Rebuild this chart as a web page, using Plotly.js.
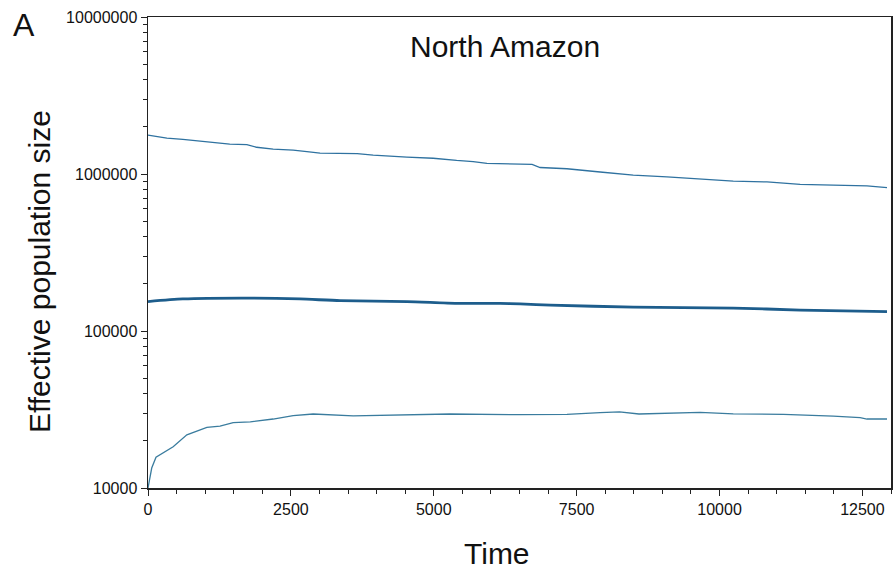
<!DOCTYPE html>
<html><head><meta charset="utf-8">
<script src="https://cdn.plot.ly/plotly-3.0.1.min.js"></script>
<style>body{margin:0;background:#fff}#chart{width:896px;height:579px}</style>
</head><body><div id="chart"></div>
<script>
// Upper 95% HPD
const upperTime = [0,330,610,1030,1310,1430,1730,1900,2190,2540,2780,3010,3660,3940,4530,4990,5400,5690,5930,6300,6720,6860,7330,7910,8490,9080,9660,10240,10830,11410,11990,12580,12930];
const upperNe   = [1.77e6,1.69e6,1.66e6,1.61e6,1.58e6,1.55e6,1.54e6,1.48e6,1.44e6,1.42e6,1.39e6,1.36e6,1.35e6,1.32e6,1.28e6,1.26e6,1.22e6,1.2e6,1.17e6,1.16e6,1.15e6,1.10e6,1.08e6,1.03e6,0.985e6,0.96e6,0.925e6,0.90e6,0.89e6,0.86e6,0.85e6,0.84e6,0.82e6];
// Median
const medianTime = [0,610,1790,2660,3360,4530,5400,6160,6510,7040,8490,10240,11410,12930];
const medianNe   = [1.54e5,1.60e5,1.62e5,1.60e5,1.56e5,1.54e5,1.50e5,1.50e5,1.49e5,1.46e5,1.42e5,1.40e5,1.36e5,1.33e5];
// Lower 95% HPD
const lowerTime = [0,65,140,440,680,1030,1260,1490,1790,2190,2540,2890,3590,4530,5280,6510,7330,7910,8250,8590,9160,9660,10240,11120,11990,12460,12580,12930];
const lowerNe   = [1.0e4,1.34e4,1.57e4,1.83e4,2.18e4,2.43e4,2.48e4,2.61e4,2.64e4,2.75e4,2.89e4,2.96e4,2.88e4,2.92e4,2.96e4,2.93e4,2.94e4,3.02e4,3.05e4,2.96e4,3.0e4,3.03e4,2.97e4,2.94e4,2.87e4,2.81e4,2.75e4,2.75e4];

const yMajor = [1e4,1e5,1e6,1e7];
const yMajorText = ["10000","100000","1000000","10000000"];
const xTicks = [0,2500,5000,7500,10000,12500];

const yMinor = [];
for (let d = 1e4; d < 1e7; d *= 10) for (let k = 2; k <= 9; k++) yMinor.push(k*d);

const font = "Liberation Sans, Arial, sans-serif";
const traces = [
  {x: upperTime, y: upperNe, mode: 'lines', line: {color: '#2f72a0', width: 1.3}, hoverinfo: 'skip'},
  {x: medianTime, y: medianNe, mode: 'lines', line: {color: '#1d5d8c', width: 2.8, shape: 'spline', smoothing: 0.6}, hoverinfo: 'skip'},
  {x: lowerTime, y: lowerNe, mode: 'lines', line: {color: '#3a7c9e', width: 1.3}, hoverinfo: 'skip'}
];
const layout = {
  width: 896, height: 579,
  margin: {l: 148, r: 5, t: 17, b: 91},
  paper_bgcolor: '#fff', plot_bgcolor: '#fff',
  showlegend: false,
  font: {family: font, color: '#111'},
  xaxis: {
    range: [0, 13000], tickvals: xTicks, ticktext: xTicks.map(String),
    ticks: 'outside', ticklen: 6, tickwidth: 1, tickcolor: '#222',
    minor: {dtick: 500, tick0: 0, ticks: 'outside', ticklen: 4, tickcolor: '#222'},
    showline: true, linecolor: '#222', linewidth: 1.5, mirror: true,
    showgrid: false, zeroline: false,
    tickfont: {size: 16, color: '#111'}
  },
  yaxis: {
    type: 'log', range: [4, 7],
    tickvals: yMajor, ticktext: yMajorText,
    ticks: 'outside', ticklen: 6, tickwidth: 1, tickcolor: '#222',
    minor: {tickvals: yMinor, ticks: 'outside', ticklen: 3.5, tickcolor: '#222'},
    showline: true, linecolor: '#222', linewidth: 1.5, mirror: true,
    showgrid: false, zeroline: false,
    tickfont: {size: 16, color: '#111'},
    ticklabelstandoff: 0
  },
  annotations: [
    {text: 'North Amazon', xref: 'paper', yref: 'paper', x: 0.481, y: 0.938, xanchor: 'center', yanchor: 'middle', showarrow: false, font: {size: 30, color: '#111'}},
    {text: 'A', xref: 'paper', yref: 'paper', x: -0.184, y: 0.984, xanchor: 'left', yanchor: 'middle', showarrow: false, font: {size: 32, color: '#111'}},
    {text: 'Effective population size', xref: 'paper', yref: 'paper', x: -0.145, y: 0.459, xanchor: 'center', yanchor: 'middle', textangle: -90, showarrow: false, font: {size: 30, color: '#111'}},
    {text: 'Time', xref: 'paper', yref: 'paper', x: 0.47, y: -0.14, xanchor: 'center', yanchor: 'middle', showarrow: false, font: {size: 30, color: '#111'}}
  ]
};
Plotly.newPlot('chart', traces, layout, {staticPlot: true, displayModeBar: false});
</script></body></html>
